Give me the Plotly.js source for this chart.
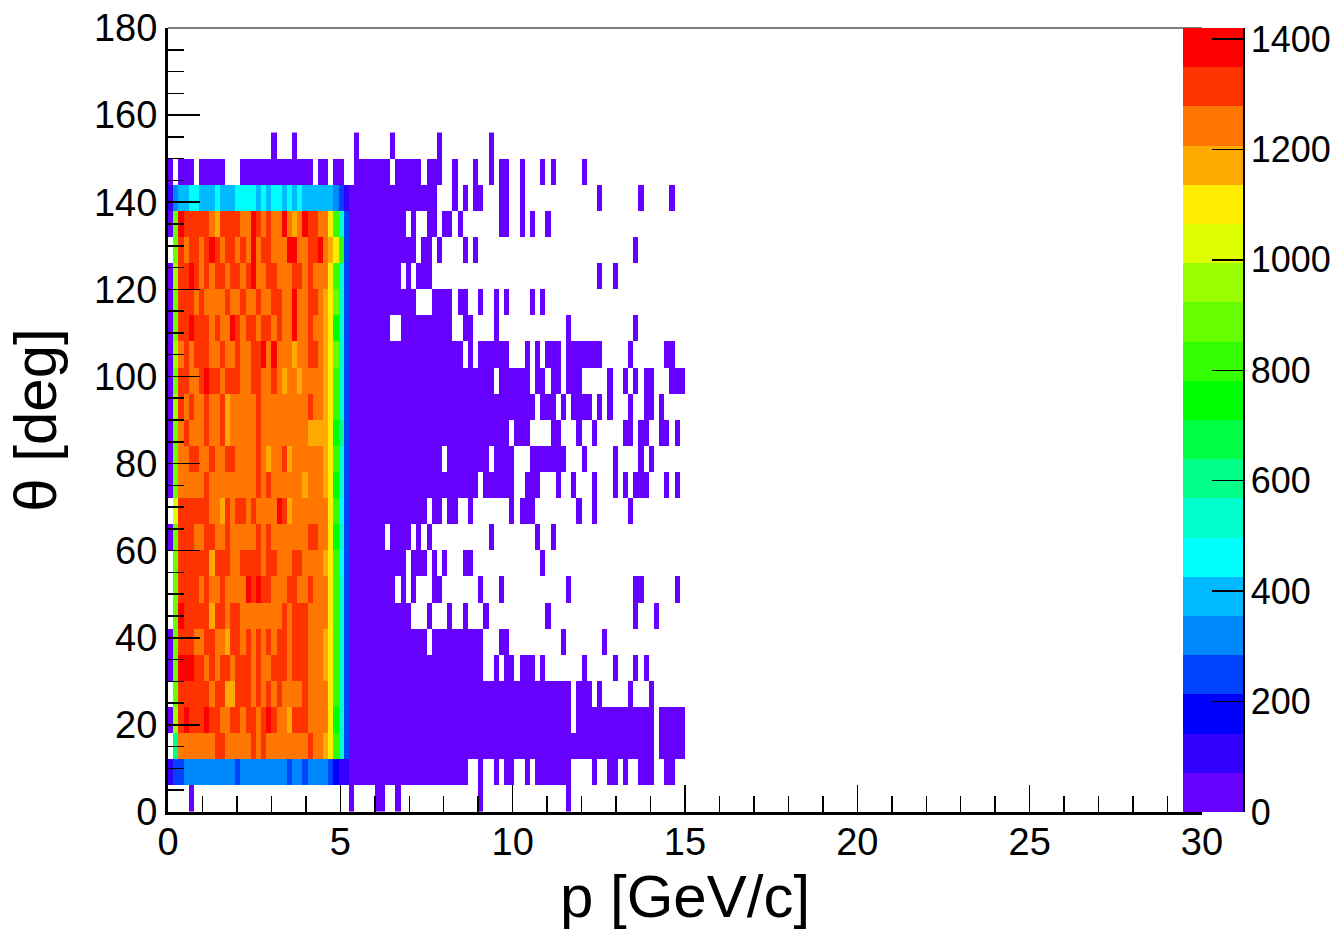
<!DOCTYPE html>
<html>
<head>
<meta charset="utf-8">
<script src="https://cdn.plot.ly/plotly-3.0.1.min.js"></script>
<style>html,body{margin:0;padding:0;background:#fff;}#chart{width:1342px;height:936px;}</style>
</head>
<body>
<div id="chart"></div>
<script>
// ---- histogram binning ----
const pBinWidth = 0.15;      // GeV/c per x bin (bins start at p = 0)
const thetaBinWidth = 6;     // deg per y bin (bins start at theta = 0)

// ---- colour band of each cell ----
// one string per theta bin, TOP row (150-156 deg) first, BOTTOM row (0-6 deg) last;
// one character per p bin (0 .. 15 GeV/c), '.' = empty, '0'..'J' = colour band 1..20
const rowsTopToBottom = [
  "..... ..... ..... ..... 0...0 ..... ..... .0... ...0. ..... ..0.. ..... ..0.. ..... ..... ..... ..... ..... ..... .....", // 150-156
  "0.000 .0000 0...0 00000 00000 000.0 0.00. .0000 000.0 0000. 000.. 0...0 ..0.0 0..0. ..0.0 ..... 0.... ..... ..... .....", // 144-150
  "14556 65556 55566 66565 66565 65555 55431 00000 00000 00000 00... 0.0.0 0...0 0..0. ..... ..... ...0. ..... .0... ..0..", // 138-144
  "0CJII IIIHG IIIIH HJIHI HHJHG HJIIH HFB73 00000 00000 0.0.. 00.00 .0... ....0 0..0. 0..0. ..... ..... ..... ..... .....", // 132-138
  ".CIHI IHIJI HIIHI HJHII HHHJJ HHIIJ HGFB3 00000 00000 000.0 0.0.. ..0.0 ..... ..... ..... ..... ..... ..... 0.... .....", // 126-132
  "0DIIJ IHIHI IHIIH IJHHI IHHHI IHIHH HFB73 00000 00000 .0.00 0.... ..... ..... ..... ..... ..... ...0. .0... ..... .....", // 120-126
  "0CIII HIHHH HIHHI HHIHH IIHHJ HHIIH GFC73 00000 00000 000.. .0000 .00.. 0..0. 0.... 0.0.. ..... ..... ..... ..... .....", // 114-120
  "0CIIJ IIIHI HHJIH IIHII HIHHJ HHIHH GFA73 00000 000.. 00000 00000 ..00. ...0. ..... ..... ..0.. ..... ..... 0.... .....", // 108-114
  "0DHIH IIIHH IHHIH HIIJH JHHHG HHIIH GFC73 00000 00000 00000 00000 00.0. 00000 0...0 .0.00 0.000 0000. ....0 ..... .00..", // 102-108
  "0CIIH HIJII HIIIH HIIHH IHGHH GHHHH GFB73 00000 00000 00000 00000 00000 000.0 00000 .00.0 0.000 ..... 0..0. 0.00. ..000", // 96-102
  "0DIHI HHIHH IGHHH HHIHH HHHHH HHIHH GFB73 00000 00000 00000 00000 00000 00000 00000 0.000 .0.00 00.0. 0...0 ..00. 0....", // 90-96
  "0CHIH HHIHH IGHHH HHIHH HHHHH HHGGG GFA83 00000 00000 00000 00000 00000 00000 0.000 ....0 0...0 ..0.. ...00 .00.. 00.0.", // 84-90
  "0CHHI IHHIH HIIHH HHIHG HHIGH HHHHH GFB73 00000 00000 00000 000.0 00000 00.00 00... 00000 00... 0.... .0... .0.0. .....", // 78-84
  "0CHHH HHIHH HHHHH HHIHI HHHHH HGHHH GFA73 00000 00000 00000 00000 00000 .0000 00..0 00... 0..0. ..0.. .0.0. 000.. .0.0.", // 72-78
  ".EIII IIIHH GIHII HIHHH HJIGH HHHHH HFB63 00000 00000 00000 .00.0 0..0. ..... .0.00 0.... ....0 ..0.. ....0 ..... .....", // 66-72
  "0CIII HHIIH HIHHH HHIHI HHHHH HHIIH HFA73 00000 00.00 00.0. 0.... ..... ..0.. ..... .0..0 ..... ..... ..... ..... .....", // 60-66
  ".CIII IIIGI IIHHI IIIHI IHHHI IHHHH GFB63 00000 00000 0.000 .0.0. ..00. ..... ..... ..0.. ..... ..... ..... ..... .....", // 54-60
  ".CIII IHIHH IHHHH JIJII HHHII HHIHH HFB73 00000 0000. 0.0.. .00.. ..... 0...0 ..... ..... ..0.. ..... ..... 00... ...0.", // 48-54
  ".CJII IIIGI IHIIH HHHHH HHIHI IIHHH HFB73 00000 00000 00... 0...0 ..0.. .0... ..... ...0. ..... ..... ..... 0...0 .....", // 42-48
  "0CIII HHIIH HGIIH IHIHI HIIHI IIHHH GFB73 00000 00000 00000 .0000 00000 0...0 0.... ..... .0... ....0 ..... ..... .....", // 36-42
  "0CJJJ IIHIH IIHII IHIHH IIIHI IIHHH GFB73 00000 00000 00000 00000 00000 0..0. 00.00 0.0.. ..... 0.... .0... 0.0.. .....", // 30-36
  ".CIII IIIHI IGGII IHIHI HIHHH HIHHH HFB73 00000 00000 00000 00000 00000 00000 00000 00000 000.0 00.0. ....0 ...0. .....", // 24-30
  "0DIJI IIJII HHIIH IIHIJ IHHGI IIHHH HFA73 00000 00000 00000 00000 00000 00000 00000 00000 000.0 00000 00000 0000. 00000", // 18-24
  ".8HHH HHHHI IHHHH HIHIH HHHHH HHIHH GFB73 00000 00000 00000 00000 00000 00000 00000 00000 00000 00000 00000 0000. 00000", // 12-18
  "13344 44444 44434 44444 44434 43444 43211 00000 00000 00000 00000 000.. 0..0. 00..0 .0000 000.. ..0.. 00.0. .000. .00..", // 6-12
  "....0 ..... ..... ..... ..... ..... ..... 0.... 00..0 ..... ..... ..... 0.... ..... ..... ..0.. ..... ..... ..... ....."  // 0-6
];

// ---- colour bands (z axis) ----
const bandChars = "0123456789ABCDEFGHIJ";
const bandWidth = 71;    // entries per colour band
const zMax = 1420;
const bandColors = [
  "#6600ff", "#3300ff", "#0000ff", "#0044ff", "#0088ff",
  "#00bbff", "#00ffff", "#00ffcc", "#00ff88", "#00ff44",
  "#00ff00", "#33ff00", "#66ff00", "#99ff00", "#ddff00",
  "#ffee00", "#ffaa00", "#ff7700", "#ff3300", "#ff0000"
];

// ---- tick labels ----
const pTicks = [0, 5, 10, 15, 20, 25, 30];
const thetaTicks = [0, 20, 40, 60, 80, 100, 120, 140, 160, 180];
const zTicks = [0, 200, 400, 600, 800, 1000, 1200, 1400];

// decode the cell strings into counts (centre of each colour band)
const z = rowsTopToBottom.slice().reverse().map(function (row) {
  return row.replace(/\s+/g, "").split("").map(function (ch) {
    if (ch === ".") return null;
    return (bandChars.indexOf(ch) + 0.5) * bandWidth;
  });
});

const colorscale = [];
bandColors.forEach(function (c, i) {
  colorscale.push([i / bandColors.length, c]);
  colorscale.push([(i + 1) / bandColors.length, c]);
});

const FONT = "Liberation Sans, Arial, Helvetica, sans-serif";
const W = 1342, H = 936;
const M = {l: 168, r: 140, t: 28, b: 124};
const plotW = W - M.l - M.r;
const pxToPaperX = function (px) { return (px - M.l) / plotW; };

const trace = {
  type: "heatmap",
  z: z,
  x0: pBinWidth / 2, dx: pBinWidth,
  y0: thetaBinWidth / 2, dy: thetaBinWidth,
  zmin: 0, zmax: zMax,
  zsmooth: false,
  colorscale: colorscale,
  hoverinfo: "skip",
  colorbar: {
    x: pxToPaperX(1183), xanchor: "left", xref: "paper",
    y: 0.5, yanchor: "middle", len: 1, lenmode: "fraction",
    thickness: 60, thicknessmode: "pixels",
    xpad: 0, ypad: 0,
    outlinewidth: 0,
    ticks: "inside", ticklen: 31, tickwidth: 1.5, tickcolor: "#000",
    tickmode: "array", tickvals: zTicks, ticktext: zTicks.map(String),
    tickfont: {family: FONT, size: 36, color: "#000"}
  }
};

const layout = {
  width: W, height: H,
  margin: {l: M.l, r: M.r, t: M.t, b: M.b, autoexpand: false},
  paper_bgcolor: "#fff", plot_bgcolor: "#fff",
  showlegend: false,
  xaxis: {
    range: [0, 30],
    tickmode: "array", tickvals: pTicks, ticktext: pTicks.map(String),
    ticks: "inside", ticklen: 27, tickwidth: 1.5, tickcolor: "#000",
    minor: {dtick: 1, tick0: 0, ticks: "inside", ticklen: 16, tickwidth: 1.5, tickcolor: "#000", showgrid: false},
    showgrid: false, zeroline: false,
    showline: true, linecolor: "#000", linewidth: 3,
    ticklabelstandoff: -6,
    tickfont: {family: FONT, size: 38, color: "#000"},
    title: {text: "p [GeV/c]", font: {family: FONT, size: 60, color: "#000"}, standoff: 4}
  },
  yaxis: {
    range: [0, 180],
    tickmode: "array", tickvals: thetaTicks, ticktext: thetaTicks.map(String),
    ticks: "inside", ticklen: 32, tickwidth: 1.5, tickcolor: "#000",
    minor: {dtick: 5, tick0: 0, ticks: "inside", ticklen: 16, tickwidth: 1.5, tickcolor: "#000", showgrid: false},
    showgrid: false, zeroline: false,
    showline: true, linecolor: "#000", linewidth: 3,
    ticklabelstandoff: 0,
    tickfont: {family: FONT, size: 38, color: "#000"},
    title: {text: "θ [deg]", font: {family: FONT, size: 60, color: "#000"}, standoff: 18}
  },
  shapes: [
    {type: "line", xref: "paper", yref: "paper", x0: 0, x1: 1, y0: 1, y1: 1,
     line: {color: "#000", width: 1.2}},
    {type: "line", xref: "paper", yref: "paper", x0: pxToPaperX(1244), x1: pxToPaperX(1244), y0: 0, y1: 1,
     line: {color: "#000", width: 2}}
  ]
};

Plotly.newPlot("chart", [trace], layout, {staticPlot: true, displayModeBar: false});
</script>
</body>
</html>
